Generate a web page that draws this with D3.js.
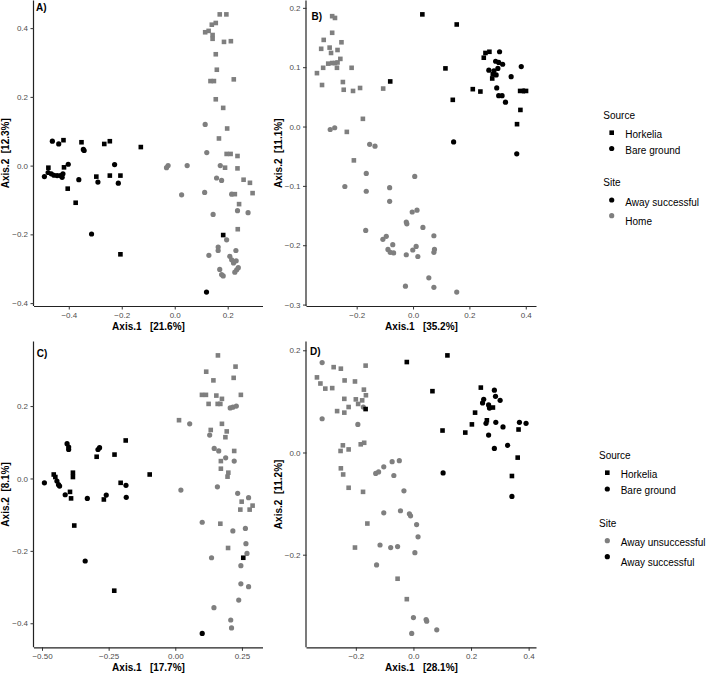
<!DOCTYPE html>
<html lang="en">
<head>
<meta charset="UTF-8">
<title>PCoA panels</title>
<script src="https://cdn.jsdelivr.net/npm/d3@7"></script>
<style>
  body { margin: 0; background: #fff; }
  svg { display: block; font-family: "Liberation Sans", Arial, Helvetica, sans-serif; }
</style>
</head>
<body>
<div id="chart"></div>
<script>
// ---- data ----
// Panel A
const aHorkeliaAway = [[-0.42,0.074],[-0.352,0.068],[-0.266,0.063],[-0.245,0.071],[-0.128,0.054],[-0.418,-0.005],[-0.477,-0.006],[-0.404,-0.067],[-0.374,-0.108],[-0.296,-0.032],[-0.245,-0.029],[-0.205,-0.029],[-0.205,-0.258],[0.183,-0.202]];
const aBareAway = [[-0.462,0.071],[-0.438,0.063],[-0.345,0.047],[-0.342,0.044],[-0.227,0.003],[-0.402,0.004],[-0.492,-0.032],[-0.478,-0.02],[-0.466,-0.024],[-0.456,-0.028],[-0.444,-0.029],[-0.432,-0.029],[-0.425,-0.034],[-0.422,-0.024],[-0.362,-0.041],[-0.29,-0.048],[-0.213,-0.051],[-0.314,-0.199],[0.12,-0.368]];
const aHorkeliaHome = [[0.17,0.44],[0.195,0.44],[0.14,0.41],[0.155,0.415],[0.115,0.388],[0.128,0.392],[0.143,0.38],[0.143,0.369],[0.186,0.36],[0.212,0.362],[0.155,0.324],[0.159,0.279],[0.135,0.246],[0.148,0.246],[0.223,0.251],[0.155,0.193],[0.183,0.168],[0.198,0.108],[0.167,0.079],[0.196,0.034],[0.211,0.034],[0.237,0.028],[0.19,-0.006],[0.237,-0.008],[0.26,-0.041],[0.284,-0.05],[0.294,-0.08],[0.227,-0.083],[0.243,-0.112],[0.238,-0.185]];
const aBareHome = [[0.115,0.12],[0.121,0.038],[0.172,0.0],[-0.025,0.0],[-0.031,-0.006],[0.047,0.0],[0.026,-0.085],[0.113,-0.078],[0.158,-0.036],[0.177,-0.043],[0.215,-0.083],[0.237,-0.131],[0.277,-0.137],[0.145,-0.142],[0.196,-0.216],[0.164,-0.237],[0.164,-0.247],[0.129,-0.261],[0.208,-0.264],[0.215,-0.274],[0.222,-0.283],[0.232,-0.277],[0.231,-0.247],[0.17,-0.302],[0.177,-0.317],[0.183,-0.321],[0.227,-0.31],[0.234,-0.303],[0.24,-0.297]];

// Panel B
const bHorkeliaAway = [[0.033,0.189],[-0.081,0.076],[0.155,0.172],[0.115,0.098],[0.141,0.045],[0.212,0.063],[0.239,0.059],[0.257,0.124],[0.271,0.126],[0.251,0.116],[0.283,0.088],[0.281,0.081],[0.38,0.06],[0.401,0.06],[0.381,0.028],[0.369,0.004]];
const bBareAway = [[0.144,-0.026],[0.307,0.126],[0.293,0.11],[0.304,0.108],[0.318,0.105],[0.269,0.095],[0.287,0.094],[0.301,0.098],[0.295,0.087],[0.348,0.084],[0.384,0.101],[0.297,0.065],[0.304,0.052],[0.316,0.052],[0.328,0.041],[0.392,0.06],[0.368,-0.046]];
const bHorkeliaHome = [[-0.287,0.186],[-0.277,0.183],[-0.287,0.158],[-0.317,0.146],[-0.254,0.142],[-0.326,0.131],[-0.296,0.133],[-0.291,0.124],[-0.268,0.129],[-0.301,0.106],[-0.287,0.107],[-0.277,0.107],[-0.268,0.108],[-0.258,0.114],[-0.319,0.099],[-0.27,0.099],[-0.218,0.099],[-0.341,0.09],[-0.323,0.07],[-0.249,0.075],[-0.246,0.062],[-0.213,0.06],[-0.188,0.065],[-0.106,0.064],[-0.178,0.013],[-0.235,-0.009],[-0.21,-0.057]];
const bBareHome = [[-0.294,-0.005],[-0.278,-0.002],[-0.154,-0.03],[-0.135,-0.033],[-0.166,-0.079],[-0.242,-0.101],[-0.166,-0.109],[-0.083,-0.103],[-0.083,-0.126],[0.006,-0.084],[-0.168,-0.175],[-0.107,-0.19],[-0.095,-0.185],[-0.072,-0.199],[-0.089,-0.207],[-0.081,-0.212],[-0.069,-0.213],[-0.024,-0.216],[-0.003,-0.144],[0.014,-0.141],[-0.024,-0.161],[-0.022,-0.164],[0.035,-0.17],[-0.001,-0.208],[0.011,-0.202],[0.017,-0.219],[0.074,-0.184],[0.076,-0.207],[0.074,-0.212],[0.056,-0.255],[-0.027,-0.269],[0.074,-0.271],[0.155,-0.279]];

// Panel C
const cHorkeliaSucc = [[-0.456,0.011],[-0.45,0.004],[-0.384,0.016],[-0.384,0.004],[-0.395,-0.037],[-0.391,-0.055],[-0.295,0.06],[-0.228,0.066],[-0.186,0.105],[-0.205,-0.012],[-0.268,-0.058],[-0.096,0.011],[-0.379,-0.13],[-0.229,-0.31],[0.255,-0.219]];
const cBareSucc = [[-0.491,-0.012],[-0.444,-0.007],[-0.438,-0.017],[-0.434,-0.021],[-0.406,0.096],[-0.4,0.087],[-0.4,0.08],[-0.413,-0.045],[-0.33,-0.055],[-0.29,0.08],[-0.284,0.085],[-0.185,-0.019],[-0.184,-0.052],[-0.259,-0.046],[-0.338,-0.228],[0.101,-0.428]];
const cHorkeliaUnsucc = [[0.16,0.34],[0.116,0.295],[0.226,0.309],[0.143,0.271],[0.219,0.278],[0.1,0.231],[0.115,0.231],[0.154,0.229],[0.175,0.22],[0.246,0.231],[0.125,0.206],[0.159,0.206],[0.169,0.206],[0.014,0.161],[0.175,0.151],[0.133,0.134],[0.193,0.13],[0.188,0.114],[0.221,0.076],[0.171,0.048],[0.171,0.027],[0.199,0.016],[0.196,0.005],[0.249,-0.064],[0.244,-0.086],[0.279,-0.086],[0.29,-0.075],[0.169,-0.125],[0.198,-0.192]];
const cBareUnsucc = [[0.054,0.151],[0.129,0.12],[0.146,0.083],[0.163,0.076],[0.221,0.048],[0.189,0.057],[0.021,-0.032],[0.158,-0.023],[0.234,-0.041],[0.275,-0.053],[0.101,-0.121],[0.216,-0.145],[0.263,-0.138],[0.265,-0.18],[0.269,-0.207],[0.136,-0.219],[0.246,-0.241],[0.246,-0.291],[0.275,-0.299],[0.238,-0.336],[0.145,-0.357],[0.208,-0.391],[0.211,-0.413],[0.206,0.195],[0.216,0.197],[0.229,0.2]];

// Panel D
const dHorkeliaSucc = [[-0.166,0.085],[-0.023,0.177],[0.066,0.12],[0.101,0.043],[0.118,0.19],[0.234,0.127],[0.276,0.088],[0.214,0.078],[0.203,0.055],[0.255,0.063],[0.18,0.039],[0.365,0.045],[0.362,-0.01],[0.342,-0.046]];
const dBareSucc = [[0.103,-0.04],[0.281,0.122],[0.285,0.11],[0.301,0.102],[0.24,0.097],[0.244,0.104],[0.261,0.093],[0.264,0.087],[0.252,0.057],[0.286,0.059],[0.311,0.05],[0.261,0.034],[0.368,0.059],[0.391,0.057],[0.327,0.014],[0.281,0.008],[0.342,-0.086]];
const dHorkeliaUnsucc = [[-0.277,0.167],[-0.252,0.164],[-0.166,0.17],[-0.335,0.147],[-0.323,0.135],[-0.306,0.125],[-0.282,0.126],[-0.239,0.141],[-0.203,0.139],[-0.172,0.123],[-0.165,0.112],[-0.24,0.105],[-0.2,0.104],[-0.192,0.095],[-0.178,0.102],[-0.265,0.081],[-0.24,0.078],[-0.225,0.089],[-0.245,0.014],[-0.253,0.003],[-0.225,0.006],[-0.183,0.016],[-0.171,0.019],[-0.252,-0.031],[-0.244,-0.043],[-0.225,-0.069],[-0.175,-0.077],[-0.16,-0.139],[-0.203,-0.186],[-0.055,-0.247],[-0.023,-0.287]];
const dBareUnsucc = [[-0.317,0.176],[-0.174,0.089],[-0.317,0.066],[-0.193,0.055],[-0.131,-0.041],[-0.121,-0.038],[-0.103,-0.028],[-0.074,-0.018],[-0.049,-0.016],[-0.068,-0.045],[-0.033,-0.075],[-0.103,-0.118],[-0.045,-0.114],[-0.014,-0.12],[-0.01,-0.124],[0.011,-0.141],[0.016,-0.165],[-0.116,-0.181],[-0.079,-0.186],[-0.055,-0.184],[0.005,-0.196],[-0.128,-0.22],[0.0,-0.323],[0.044,-0.327],[0.046,-0.33],[0.081,-0.347],[-0.006,-0.354]];

// tick values
const aXTicks = [-0.4, -0.2, 0.0, 0.2];
const aYTicks = [-0.4, -0.2, 0.0, 0.2, 0.4];
const bXTicks = [-0.2, 0.0, 0.2, 0.4];
const bYTicks = [-0.3, -0.2, -0.1, 0.0, 0.1, 0.2];
const cXTicks = [-0.50, -0.25, 0.00, 0.25];
const cYTicks = [-0.4, -0.2, 0.0, 0.2];
const dXTicks = [-0.2, 0.0, 0.2, 0.4];
const dYTicks = [-0.2, 0.0, 0.2];

// legend entries
const sourceLabels = ["Horkelia", "Bare ground"];
const siteLabelsTop = ["Away successful", "Home"];
const siteLabelsBottom = ["Away unsuccessful", "Away successful"];

// ---- layout ----
const width = 709, height = 673;
const black = "#000000", grey = "#7f7f7f";
const cols = [[34, 263], [306.5, 536.5]];
const rows = [[0.5, 306], [341.5, 647.3]];

const svg = d3.select("#chart").append("svg")
    .attr("width", width)
    .attr("height", height)
    .attr("viewBox", [0, 0, width, height]);

const panels = [
  {tag: "A)", col: 0, row: 0, xlab: "Axis.1   [21.6%]", ylab: "Axis.2  [12.3%]",
   xt: aXTicks, yt: aYTicks, xf: ".1f", yf: ".1f", tagPos: [2, 10.5],
   groups: [[aHorkeliaHome, "sq", grey], [aBareHome, "ci", grey], [aHorkeliaAway, "sq", black], [aBareAway, "ci", black]]},
  {tag: "B)", col: 1, row: 0, xlab: "Axis.1   [35.2%]", ylab: "Axis.2  [11.1%]",
   xt: bXTicks, yt: bYTicks, xf: ".1f", yf: ".1f", tagPos: [5, 19.5],
   groups: [[bHorkeliaHome, "sq", grey], [bBareHome, "ci", grey], [bHorkeliaAway, "sq", black], [bBareAway, "ci", black]]},
  {tag: "C)", col: 0, row: 1, xlab: "Axis.1   [17.7%]", ylab: "Axis.2  [8.1%]",
   xt: cXTicks, yt: cYTicks, xf: ".2f", yf: ".1f", tagPos: [2.7, 15.5],
   groups: [[cHorkeliaUnsucc, "sq", grey], [cBareUnsucc, "ci", grey], [cHorkeliaSucc, "sq", black], [cBareSucc, "ci", black]]},
  {tag: "D)", col: 1, row: 1, xlab: "Axis.1   [28.1%]", ylab: "Axis.2  [11.2%]",
   xt: dXTicks, yt: dYTicks, xf: ".1f", yf: ".1f", tagPos: [3.5, 13.5],
   groups: [[dHorkeliaUnsucc, "sq", grey], [dBareUnsucc, "ci", grey], [dHorkeliaSucc, "sq", black], [dBareSucc, "ci", black]]}
];

// ggplot-style 5% expansion of the data range
function expanded(vals) {
  const [lo, hi] = d3.extent(vals);
  const pad = (hi - lo) * 0.05;
  return [lo - pad, hi + pad];
}

const sqSide = 4.6, ciR = 2.6;

panels.forEach(p => {
  const [x0, x1] = cols[p.col];
  const [y0, y1] = rows[p.row];
  const all = p.groups.flatMap(g => g[0]);
  const x = d3.scaleLinear().domain(expanded(all.map(d => d[0]))).range([x0, x1]);
  const y = d3.scaleLinear().domain(expanded(all.map(d => d[1]))).range([y1, y0]);

  const g = svg.append("g");

  // points
  p.groups.forEach(([data, shape, color]) => {
    if (shape === "sq") {
      g.append("g").selectAll("rect").data(data).join("rect")
          .attr("x", d => x(d[0]) - sqSide / 2)
          .attr("y", d => y(d[1]) - sqSide / 2)
          .attr("width", sqSide).attr("height", sqSide)
          .attr("fill", color);
    } else {
      g.append("g").selectAll("circle").data(data).join("circle")
          .attr("cx", d => x(d[0]))
          .attr("cy", d => y(d[1]))
          .attr("r", ciR)
          .attr("fill", color);
    }
  });

  // axes
  const xAxis = g.append("g")
      .attr("transform", `translate(0,${y1})`)
      .call(d3.axisBottom(x).tickValues(p.xt).tickFormat(d3.format(p.xf)).tickSize(3.5).tickPadding(2.5));
  const yAxis = g.append("g")
      .attr("transform", `translate(${x0},0)`)
      .call(d3.axisLeft(y).tickValues(p.yt).tickFormat(d3.format(p.yf)).tickSize(3.5).tickPadding(2.5));

  [xAxis, yAxis].forEach(a => {
    a.select(".domain").attr("stroke", "#222").attr("stroke-width", 1.2);
    a.selectAll(".tick line").attr("stroke", "#333").attr("stroke-width", 1);
    a.selectAll(".tick text").attr("fill", "#4d4d4d").attr("font-size", 8)
        .attr("font-family", "Liberation Sans, Arial, sans-serif");
  });
  // axis lines run the full panel length
  xAxis.select(".domain").attr("d", `M${x0},0.5H${x1}`);
  yAxis.select(".domain").attr("d", `M-0.5,${y0}V${y1}`);

  // axis titles
  g.append("text")
      .attr("x", (x0 + x1) / 2).attr("y", y1 + 23.5)
      .attr("text-anchor", "middle")
      .attr("font-size", 10).attr("font-weight", "bold")
      .style("white-space", "pre")
      .text(p.xlab);
  g.append("text")
      .attr("transform", `translate(${x0 - 25},${(y0 + y1) / 2}) rotate(-90)`)
      .attr("text-anchor", "middle")
      .attr("font-size", 10).attr("font-weight", "bold")
      .style("white-space", "pre")
      .text(p.ylab);

  // panel tag
  g.append("text")
      .attr("x", x0 + p.tagPos[0]).attr("y", y0 + p.tagPos[1])
      .attr("font-size", 10).attr("font-weight", "bold")
      .text(p.tag);
});

// ---- legends ----
function legend(opts) {
  const g = svg.append("g");
  g.append("text").attr("x", opts.titleX).attr("y", opts.sourceTitleY)
      .attr("font-size", 10).text("Source");
  sourceLabels.forEach((lab, i) => {
    const ky = opts.sourceKeys[i];
    if (i === 0) {
      g.append("rect").attr("x", opts.keyX - 2.3).attr("y", ky - 2.3)
          .attr("width", 4.6).attr("height", 4.6).attr("fill", black);
    } else {
      g.append("circle").attr("cx", opts.keyX).attr("cy", ky).attr("r", 2.6).attr("fill", black);
    }
    g.append("text").attr("x", opts.labelX).attr("y", opts.sourceLabs[i]).attr("dy", "0.35em")
        .attr("font-size", 10).text(lab);
  });
  g.append("text").attr("x", opts.titleX).attr("y", opts.siteTitleY)
      .attr("font-size", 10).text("Site");
  opts.siteLabels.forEach((lab, i) => {
    g.append("circle").attr("cx", opts.keyX).attr("cy", opts.siteKeys[i]).attr("r", 2.6)
        .attr("fill", opts.siteColors[i]);
    g.append("text").attr("x", opts.labelX).attr("y", opts.siteLabs[i]).attr("dy", "0.35em")
        .attr("font-size", 10).text(lab);
  });
}

legend({titleX: 603.3, keyX: 611.7, labelX: 625.3,
        sourceTitleY: 118.5, sourceKeys: [132.7, 148.5], sourceLabs: [134, 150],
        siteTitleY: 185.5, siteKeys: [200, 215.7], siteLabs: [202.3, 221.7],
        siteLabels: siteLabelsTop, siteColors: [black, grey]});

legend({titleX: 599, keyX: 607.3, labelX: 620.7,
        sourceTitleY: 458.5, sourceKeys: [472.7, 489], sourceLabs: [474, 490],
        siteTitleY: 526.5, siteKeys: [540.7, 556.7], siteLabs: [542.7, 562.7],
        siteLabels: siteLabelsBottom, siteColors: [grey, black]});
</script>
</body>
</html>
